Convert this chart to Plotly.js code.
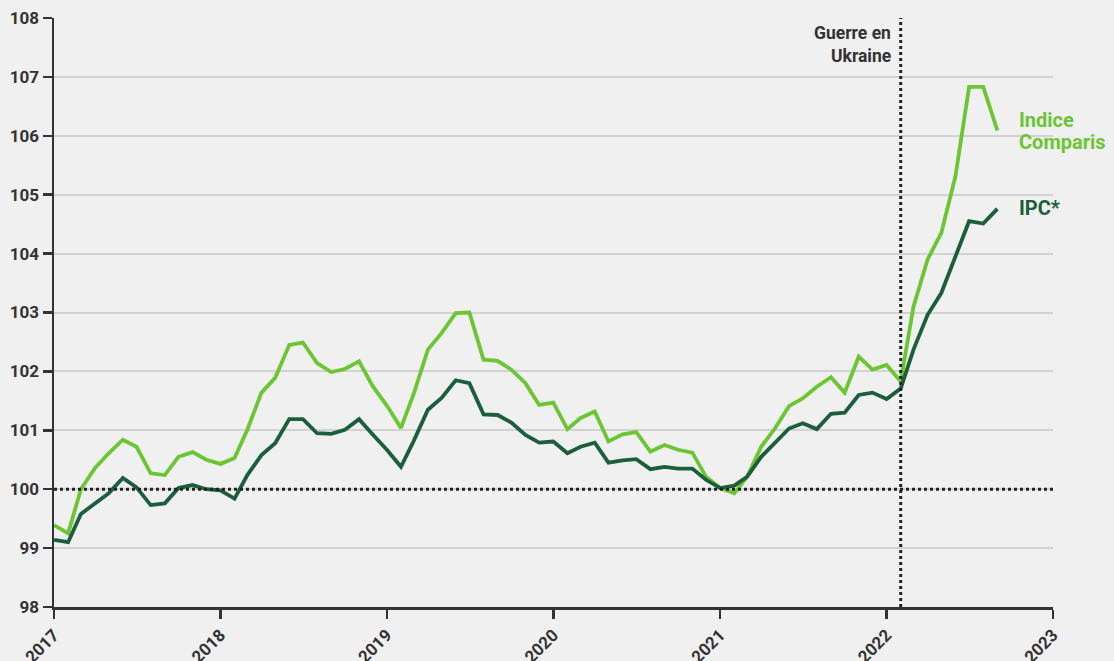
<!DOCTYPE html>
<html>
<head>
<meta charset="utf-8">
<script src="https://cdn.plot.ly/plotly-3.0.1.min.js"></script>
<style>
  html, body { margin: 0; padding: 0; background: #f0f0f0; }
  #chart { width: 1114px; height: 661px; }
</style>
</head>
<body>
<div id="chart"></div>
<script>
// Monthly observations, January 2017 to September 2022
const firstMonth = [2017, 1];
const monthCount = 69;
const months = [];
for (let i = 0; i < monthCount; i++) {
  const y = firstMonth[0] + Math.floor((firstMonth[1] - 1 + i) / 12);
  const m = ((firstMonth[1] - 1 + i) % 12) + 1;
  months.push(y + '-' + String(m).padStart(2, '0') + '-01');
}

const indiceComparis = [
  99.39, 99.25, 100.00, 100.36, 100.61, 100.84, 100.72, 100.27, 100.24, 100.55, 100.63, 100.50,
  100.43, 100.53, 101.01, 101.64, 101.89, 102.45, 102.49, 102.14, 101.99, 102.04, 102.17, 101.75,
  101.42, 101.04, 101.62, 102.37, 102.65, 102.99, 103.00, 102.20, 102.18, 102.03, 101.80, 101.43,
  101.47, 101.02, 101.21, 101.32, 100.81, 100.93, 100.97, 100.64, 100.75, 100.67, 100.62, 100.21,
  100.02, 99.93, 100.21, 100.72, 101.03, 101.41, 101.54, 101.74, 101.90, 101.64, 102.25, 102.03,
  102.11, 101.83, 103.10, 103.90, 104.35, 105.31, 106.83, 106.83, 106.09
];

const ipc = [
  99.14, 99.10, 99.58, 99.76, 99.93, 100.19, 100.03, 99.73, 99.76, 100.02, 100.07, 100.00,
  99.98, 99.84, 100.24, 100.58, 100.78, 101.19, 101.19, 100.95, 100.94, 101.01, 101.19, 100.93,
  100.67, 100.38, 100.82, 101.35, 101.55, 101.85, 101.80, 101.27, 101.26, 101.13, 100.92, 100.79,
  100.81, 100.61, 100.72, 100.79, 100.45, 100.49, 100.51, 100.34, 100.38, 100.35, 100.35, 100.16,
  100.02, 100.06, 100.21, 100.55, 100.78, 101.03, 101.12, 101.02, 101.28, 101.30, 101.60, 101.64,
  101.53, 101.71, 102.37, 102.96, 103.33, 103.95, 104.55, 104.51, 104.76
];

const yTicks = [98, 99, 100, 101, 102, 103, 104, 105, 106, 107, 108];
const xTicks = ['2017-01-01', '2018-01-01', '2019-01-01', '2020-01-01', '2021-01-01', '2022-01-01', '2023-01-01'];
const xTickText = ['2017', '2018', '2019', '2020', '2021', '2022', '2023'];
const warDate = '2022-02-01';
const baseValue = 100;

const lightGreen = '#6cc532';
const darkGreen = '#1b5e3b';
const ink = '#333333';

const traces = [
  { x: months, y: indiceComparis, type: 'scatter', mode: 'lines', name: 'Indice Comparis',
    line: { color: lightGreen, width: 3.8 }, hoverinfo: 'x+y' },
  { x: months, y: ipc, type: 'scatter', mode: 'lines', name: 'IPC*',
    line: { color: darkGreen, width: 3.8 }, hoverinfo: 'x+y' }
];

const tickFont = { family: 'Roboto, sans-serif', size: 17, color: ink, weight: 700 };
const warFont = { family: 'Roboto, sans-serif', size: 17.5, color: ink, weight: 700 };

const layout = {
  width: 1114, height: 661,
  margin: { l: 54, r: 61, t: 18, b: 54, pad: 0 },
  paper_bgcolor: '#f0f0f0', plot_bgcolor: '#f0f0f0',
  showlegend: false,
  xaxis: {
    type: 'date', range: ['2017-01-01', '2023-01-01'],
    tickvals: xTicks, ticktext: xTickText, tickangle: -45,
    tickfont: tickFont,
    showgrid: false, zeroline: false,
    showline: true, linecolor: ink, linewidth: 2.5,
    ticks: 'outside', ticklen: 9, tickwidth: 2.5, tickcolor: ink
  },
  yaxis: {
    range: [98, 108], tickvals: yTicks,
    tickfont: tickFont,
    showgrid: true, gridcolor: '#d2d2d2', gridwidth: 2,
    zeroline: false,
    showline: true, linecolor: ink, linewidth: 2.5,
    ticks: 'outside', ticklen: 9, tickwidth: 2.5, tickcolor: ink
  },
  shapes: [
    { type: 'line', xref: 'paper', x0: 0, x1: 1, yref: 'y', y0: baseValue, y1: baseValue,
      line: { color: '#222', width: 3, dash: 'dot' } },
    { type: 'line', xref: 'x', x0: warDate, x1: warDate, yref: 'y', y0: 98, y1: 108,
      line: { color: '#222', width: 3, dash: 'dot' } }
  ],
  annotations: [
    { xref: 'x', yref: 'y', x: warDate, y: 107.74, xanchor: 'right', yanchor: 'middle', xshift: -8,
      text: 'Guerre en', showarrow: false, font: warFont },
    { xref: 'x', yref: 'y', x: warDate, y: 107.35, xanchor: 'right', yanchor: 'middle', xshift: -8,
      text: 'Ukraine', showarrow: false, font: warFont },
    { xref: 'paper', yref: 'y', x: 0.9635, y: 106.26, xanchor: 'left', yanchor: 'middle',
      text: 'Indice', showarrow: false,
      font: { family: 'Roboto, sans-serif', size: 20, color: lightGreen, weight: 700 } },
    { xref: 'paper', yref: 'y', x: 0.9635, y: 105.89, xanchor: 'left', yanchor: 'middle',
      text: 'Comparis', showarrow: false,
      font: { family: 'Roboto, sans-serif', size: 20, color: lightGreen, weight: 700 } },
    { xref: 'paper', yref: 'y', x: 0.9635, y: 104.77, xanchor: 'left', yanchor: 'middle',
      text: 'IPC*', showarrow: false,
      font: { family: 'Roboto, sans-serif', size: 20, color: darkGreen, weight: 700 } }
  ]
};

Plotly.newPlot('chart', traces, layout, { displayModeBar: false, staticPlot: true });
</script>
</body>
</html>
